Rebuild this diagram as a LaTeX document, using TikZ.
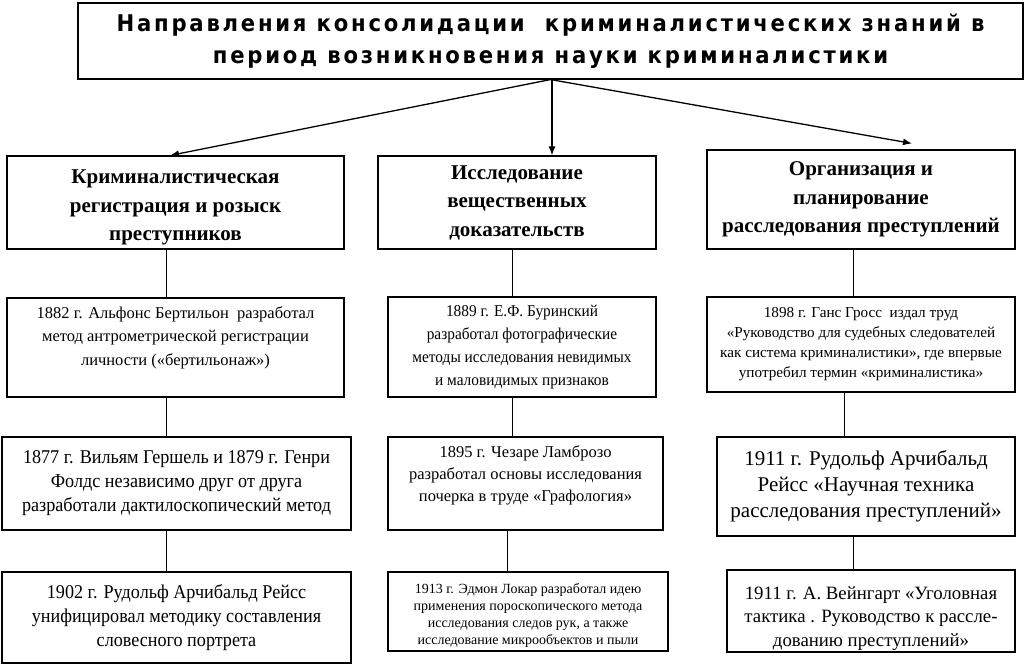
\documentclass[tikz,border=0pt]{standalone}
\usepackage{fontspec}
\setmainfont{Liberation Serif}
\newfontfamily\narrowserif[FakeStretch=0.93]{Liberation Serif}
\newfontfamily\titlefont[FakeStretch=0.92,LetterSpace=12]{DejaVu Sans}
\usetikzlibrary{arrows.meta}

\begin{document}
\begin{tikzpicture}[x=1pt,y=-1pt,
    box/.style={draw=black, line width=1.1pt, align=center, inner sep=0pt},
    head/.style={box, font=\fontsize{21}{28.5}\selectfont\bfseries},
    arr/.style={-{Latex[length=9pt,width=7pt]}, line width=1.3pt},
    link/.style={line width=0.9pt}]
\useasboundingbox (0,0) rectangle (1024,664);

% title
\node[box, minimum width=945pt, minimum height=76pt, font=\titlefont\bfseries\fontsize{23}{32}\selectfont] (title) at (550.5,41)
    {Направления консолидации\ \ криминалистических знаний в\\период возникновения науки криминалистики};

% directions
\node[head, minimum width=337pt, minimum height=93pt] (h1) at (175.5,202.5) {\rule{0pt}{24pt}Криминалистическая\\регистрация и розыск\\преступников};
\node[head, minimum width=278pt, minimum height=93pt] (h2) at (517,202.5) {Исследование\\вещественных\\доказательств};
\node[head, minimum width=308pt, minimum height=99pt] (h3) at (861,199.5) {Организация и\\планирование\\расследования преступлений};

% row 1
\node[box, minimum width=337pt, minimum height=99pt, font=\fontsize{16.5}{23.5}\selectfont] (r1) at (175.5,347.5)
    {1882 г. Альфонс Бертильон\ \ разработал\\метод антрометрической регистрации\\личности («бертильонаж»)\\ \mbox{}};
\node[box, minimum width=268pt, minimum height=100pt, font=\narrowserif\fontsize{16.5}{23}\selectfont] (r2) at (522,347)
    {1889 г. Е.Ф. Буринский\\разработал фотографические\\методы исследования невидимых\\и маловидимых признаков};
\node[box, minimum width=308pt, minimum height=95pt, font=\fontsize{15.2}{20}\selectfont] (r3) at (861,344.5)
    {1898 г. Ганс Гросс\ \ издал труд\\«Руководство для судебных следователей\\как система криминалистики», где впервые\\употребил термин «криминалистика»};

% row 2
\node[box, minimum width=349pt, minimum height=93pt, font=\narrowserif\fontsize{19.5}{24}\selectfont] (s1) at (176.5,483.5)
    {1877 г. Вильям Гершель и 1879 г. Генри\\Фолдс независимо друг от друга\\разработали дактилоскопический метод};
\node[box, minimum width=275pt, minimum height=93pt, font=\fontsize{16.5}{22}\selectfont] (s2) at (525.5,483.5)
    {1895 г. Чезаре Ламброзо\\разработал основы исследования\\почерка в труде «Графология»\rule[-20pt]{0pt}{1pt}};
\node[box, minimum width=298pt, minimum height=99pt, font=\fontsize{21}{26}\selectfont] (s3) at (866,486.5)
    {1911 г. Рудольф Арчибальд\\Рейсс «Научная техника\\расследования преступлений»};

% row 3
\node[box, minimum width=349pt, minimum height=91pt, font=\narrowserif\fontsize{19.5}{24}\selectfont] (t1) at (176.5,617.5)
    {1902 г. Рудольф Арчибальд Рейсс\\унифицировал методику составления\\словесного портрета};
\node[box, minimum width=280pt, minimum height=79pt, font=\fontsize{14}{17}\selectfont] (t2) at (528,611.5)
    {\rule{0pt}{18pt}1913 г. Эдмон Локар разработал идею\\применения пороскопического метода\\исследования следов рук, а также\\исследование микрообъектов и пыли};
\node[box, minimum width=288pt, minimum height=82pt, font=\fontsize{18.8}{23.5}\selectfont] (t3) at (871,611)
    {\rule{0pt}{28pt}1911 г. А. Вейнгарт «Уголовная\\тактика . Руководство к рассле-\\дованию преступлений»};

% arrows
\draw[arr] (title.south) -- ([xshift=-5.5pt]h1.north);
\draw[arr] ([xshift=1.5pt]title.south) -- ([xshift=1.5pt]title.south |- h2.north);
\draw[arr] (title.south) -- ([shift={(51pt,6pt)}]h3.north);

% trunks
\coordinate (kL) at (166,0);
\coordinate (kM) at (512,0);
\coordinate (kR) at (853,0);
\coordinate (kR2) at (844,0);
\coordinate (kM3) at (507,0);
\draw[link] (h1.south -| kL) -- (r1.north -| kL);
\draw[link] (h2.south -| kM) -- (r2.north -| kM);
\draw[link] (h3.south -| kR) -- (r3.north -| kR);
\draw[link] (r1.south -| kL) -- (s1.north -| kL);
\draw[link] (r2.south -| kM) -- (s2.north -| kM);
\draw[link] (r3.south -| kR2) -- (s3.north -| kR2);
\draw[link] (s1.south -| kL) -- (t1.north -| kL);
\draw[link] (s2.south -| kM3) -- (t2.north -| kM3);
\draw[link] (s3.south -| kR) -- (t3.north -| kR);
\end{tikzpicture}
\end{document}
